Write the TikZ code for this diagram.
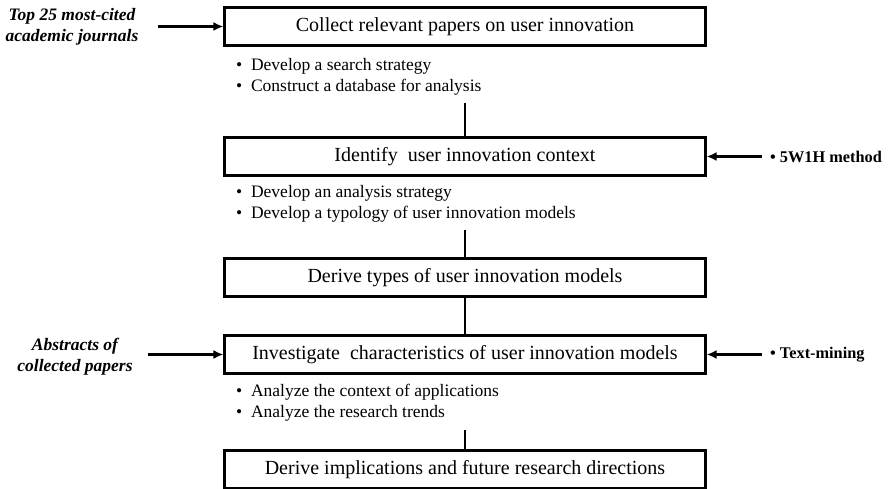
\documentclass[tikz,border=0pt]{standalone}
\usepackage{fontspec}
\setmainfont{Liberation Serif}
\usetikzlibrary{arrows.meta}
\begin{document}
\begin{tikzpicture}[x=1pt,y=-1pt,
  stepbox/.style={draw,line width=2.2pt,minimum width=481pt,minimum height=38pt,inner sep=0pt,font=\fontsize{20}{24}\selectfont},
  blist/.style={anchor=west,align=left,inner sep=0pt,font=\fontsize{17.5}{21}\selectfont},
  side/.style={align=center,inner sep=0pt,font=\fontsize{17.5}{21}\selectfont\bfseries\itshape},
  rside/.style={anchor=west,inner sep=0pt,font=\fontsize{16.3}{18}\selectfont\bfseries},
  arr/.style={line width=2.2pt,-{Latex[length=10pt,width=9pt]}},
  conn/.style={line width=2.2pt}]
\useasboundingbox (0,0) rectangle (895,489);
\node[stepbox] (b1) at (465,26.5) {Collect relevant papers on user innovation};
\node[stepbox] (b2) at (465,156.5) {Identify\ \ user innovation context};
\node[stepbox] (b3) at (465,277.5) {Derive types of user innovation models};
\node[stepbox] (b4) at (465,354.5) {Investigate\ \ characteristics of user innovation models};
\node[stepbox] (b5) at (465,469.5) {Derive implications and future research directions};
\node[blist] (l1) at (236,77) {\textbullet\hspace{0.5em}Develop a search strategy\\\textbullet\hspace{0.5em}Construct a database for analysis};
\node[blist] (l2) at (236,204) {\textbullet\hspace{0.5em}Develop an analysis strategy\\\textbullet\hspace{0.5em}Develop a typology of user innovation models};
\node[blist] (l4) at (236,402.5) {\textbullet\hspace{0.5em}Analyze the context of applications\\\textbullet\hspace{0.5em}Analyze the research trends};
\coordinate (c1) at (465,103);
\coordinate (c2) at (465,230);
\coordinate (c4) at (465,430);
\draw[conn] (c1) -- (b2.north);
\draw[conn] (c2) -- (b3.north);
\draw[conn] (b3.south) -- (b4.north);
\draw[conn] (c4) -- (b5.north);
\node[side] (s1) at (72,26.5) {Top 25 most-cited\\academic journals};
\node[side] (s4) at (75,357) {Abstracts of\\collected papers};
\node[rside] (r2) at (770,157) {\textbullet\ 5W1H method};
\node[rside] (r4) at (770,355) {\textbullet\ Text-mining};
\coordinate (a1) at (158,26.5);
\coordinate (a4) at (148,354.5);
\coordinate (a2) at (762,156.5);
\coordinate (a5) at (762,354.5);
\draw[arr] (a1) -- (b1.west);
\draw[arr] (a4) -- (b4.west);
\draw[arr] (a2) -- (b2.east);
\draw[arr] (a5) -- (b4.east);
\end{tikzpicture}
\end{document}
